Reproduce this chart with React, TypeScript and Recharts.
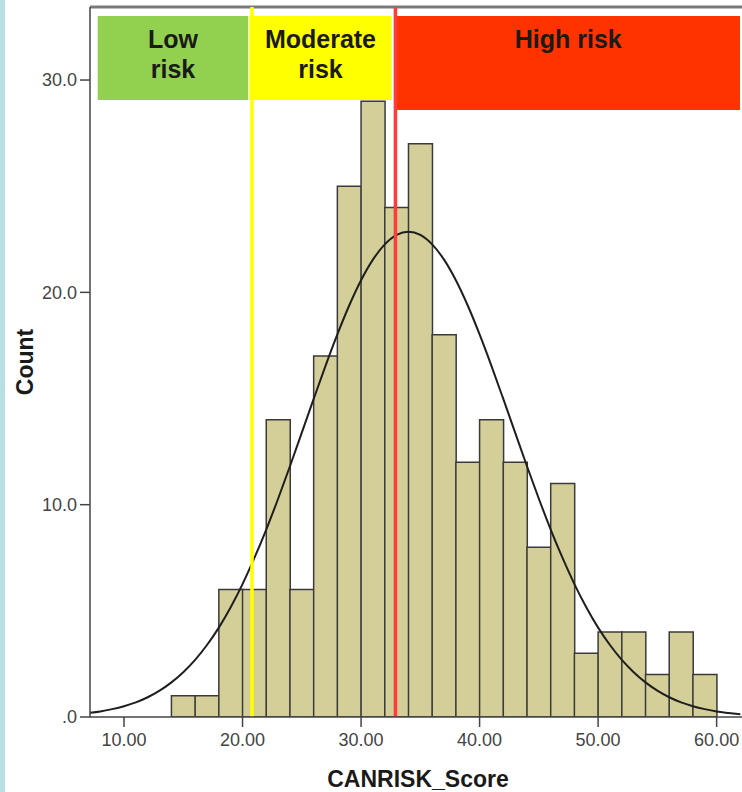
import React from 'react';
import { ComposedChart, Bar, Line, XAxis, YAxis, ReferenceLine, ReferenceArea } from 'recharts';

// histogram bins (width 2), centre of each bin
const binCenters = [15, 17, 19, 21, 23, 25, 27, 29, 31, 33, 35, 37, 39, 41, 43, 45, 47, 49, 51, 53, 55, 57, 59];
const counts = [1, 1, 6, 6, 14, 6, 17, 25, 29, 24, 27, 18, 12, 14, 12, 8, 11, 3, 4, 4, 2, 4, 2];

// normal curve
const curveX = [
  7, 8, 9, 10, 11, 12, 13, 14, 15, 16, 17, 18, 19, 20, 21, 22, 23, 24, 25, 26, 27, 28, 29, 30, 31, 32, 33, 34,
  35, 36, 37, 38, 39, 40, 41, 42, 43, 44, 45, 46, 47, 48, 49, 50, 51, 52, 53, 54, 55, 56, 57, 58, 59, 60, 61, 62,
];
const curveY = [
  0.19, 0.26, 0.37, 0.51, 0.69, 0.93, 1.24, 1.63, 2.11, 2.69, 3.39, 4.21, 5.17, 6.26, 7.49, 8.83, 10.28, 11.81,
  13.39, 14.98, 16.54, 18.02, 19.38, 20.57, 21.54, 22.26, 22.71, 22.86, 22.71, 22.26, 21.54, 20.57, 19.38, 18.02,
  16.54, 14.98, 13.39, 11.81, 10.28, 8.83, 7.49, 6.26, 5.17, 4.21, 3.39, 2.69, 2.11, 1.63, 1.24, 0.93, 0.69, 0.51,
  0.37, 0.26, 0.19, 0.13,
];

const xTicks = [10, 20, 30, 40, 50, 60];
const yTicks = [0, 10, 20, 30];
const xDomain = [7.13, 62.14];
const yDomain = [0, 33.44];

// cut-off lines: low/moderate and moderate/high
const cutLow = 20.8;
const cutHigh = 32.9;

// risk band boxes (data units)
const bandNames = [['Low', 'risk'], ['Moderate', 'risk'], ['High risk']];
const bandX = [[7.78, 20.48], [20.57, 32.58], [32.99, 61.97]];
const bandY = [[29.06, 33.02], [29.06, 33.02], [28.59, 33.02]];
const bandColors = ['#92d050', '#ffff00', '#ff3300'];

const histData = binCenters.map((mid, i) => ({ mid, count: counts[i] }));
const curveData = curveX.map((x, i) => ({ x, y: curveY[i] }));

const font = '"Liberation Sans", Arial, sans-serif';

const BandLabel = ({ viewBox, lines }: any) => {
  const cx = viewBox.x + viewBox.width / 2;
  return (
    <text x={cx} y={viewBox.y + 32.5} textAnchor="middle" fontSize={25} fontWeight="bold" fill="#1a1a1a" fontFamily={font}>
      {lines.map((l: string, i: number) => (
        <tspan key={i} x={cx} dy={i === 0 ? 0 : 29.5}>{l}</tspan>
      ))}
    </text>
  );
};

export default function App() {
  const tick = { fontSize: 18, fill: '#444', fontFamily: font };
  return (
    <div style={{ position: 'absolute', left: 0, top: 0, width: 742, height: 792, background: '#fff', fontFamily: font, overflow: 'hidden' }}>
      <div style={{ position: 'absolute', left: 0, top: 0, width: 5, height: 792, background: '#b8dfe4' }} />
      <ComposedChart
        width={742}
        height={792}
        data={histData}
        margin={{ top: 7, right: 0, bottom: 0, left: 0 }}
        barCategoryGap={0}
        barGap={0}
      >
        <XAxis
          xAxisId="bins"
          dataKey="mid"
          type="number"
          domain={xDomain}
          allowDataOverflow
          ticks={xTicks}
          tickFormatter={(v: number) => v.toFixed(2)}
          height={75}
          tick={tick}
          tickSize={10}
          tickMargin={6}
          axisLine={{ stroke: '#444', strokeWidth: 1.5 }}
          tickLine={{ stroke: '#444', strokeWidth: 1.5 }}
        />
        <XAxis xAxisId="curve" dataKey="x" type="number" domain={xDomain} allowDataOverflow hide />
        <YAxis
          type="number"
          domain={yDomain}
          allowDataOverflow
          ticks={yTicks}
          tickFormatter={(v: number) => (v === 0 ? '.0' : v.toFixed(1))}
          width={90}
          tick={tick}
          tickSize={10}
          tickMargin={3}
          axisLine={{ stroke: '#444', strokeWidth: 1.5 }}
          tickLine={{ stroke: '#444', strokeWidth: 1.5 }}
        />
        <ReferenceLine xAxisId="bins" y={yDomain[1]} stroke="#7a7a7a" strokeWidth={3} ifOverflow="visible" />
        <Bar xAxisId="bins" dataKey="count" fill="#d4cf98" stroke="#3a3a3a" strokeWidth={1.5} isAnimationActive={false} />
        <Line
          xAxisId="curve"
          data={curveData}
          dataKey="y"
          type="monotone"
          stroke="#1e1e1e"
          strokeWidth={2}
          dot={false}
          activeDot={false}
          isAnimationActive={false}
        />
        <ReferenceLine xAxisId="bins" x={cutLow} stroke="#ffff00" strokeWidth={3.5} />
        <ReferenceLine xAxisId="bins" x={cutHigh} stroke="#ff3b3b" strokeWidth={3.5} />
        {bandNames.map((lines, i) => (
          <ReferenceArea
            key={i}
            xAxisId="bins"
            x1={bandX[i][0]}
            x2={bandX[i][1]}
            y1={bandY[i][0]}
            y2={bandY[i][1]}
            fill={bandColors[i]}
            fillOpacity={1}
            stroke="none"
            ifOverflow="visible"
            label={(p: any) => <BandLabel {...p} lines={lines} />}
          />
        ))}
      </ComposedChart>
      <div
        style={{
          position: 'absolute', left: 25, top: 362, transform: 'translate(-50%, -50%) rotate(-90deg)',
          fontSize: 23, fontWeight: 'bold', color: '#1a1a1a', whiteSpace: 'nowrap',
        }}
      >
        Count
      </div>
      <div
        style={{
          position: 'absolute', left: 418, top: 779, transform: 'translate(-50%, -50%)',
          fontSize: 23, fontWeight: 'bold', color: '#1a1a1a', whiteSpace: 'nowrap',
        }}
      >
        CANRISK_Score
      </div>
    </div>
  );
}
